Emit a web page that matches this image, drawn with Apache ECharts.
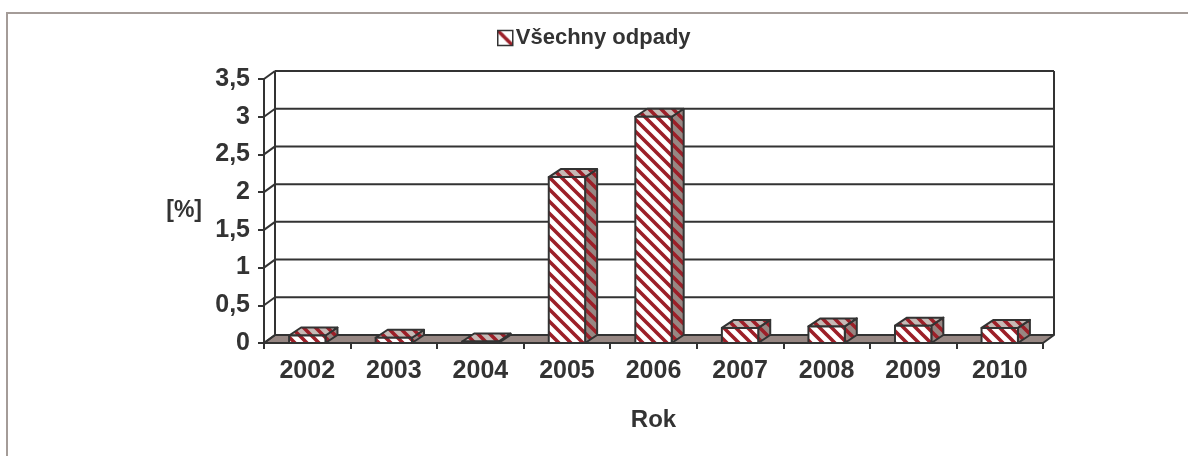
<!DOCTYPE html>
<html>
<head>
<meta charset="utf-8">
<script src="https://cdn.jsdelivr.net/npm/echarts@6/dist/echarts.min.js"></script>
<style>html,body{margin:0;padding:0;background:#fff;}#c{width:1188px;height:456px;}</style>
</head>
<body>
<div id="c"></div>
<script>
var categories = ['2002','2003','2004','2005','2006','2007','2008','2009','2010'];
var values = [0.1, 0.07, 0.02, 2.2, 3.0, 0.2, 0.22, 0.23, 0.2];
var yTicks = [0, 0.5, 1, 1.5, 2, 2.5, 3, 3.5];
var seriesName = 'Všechny odpady';
var xName = 'Rok';
var yName = '[%]';

var DX = 11, DY = -8;       // wall depth
var BDX = 12, BDY = -8;     // bar depth
var DARK = '#333333';
var FONT = '"Liberation Sans", Arial, sans-serif';

function makePattern(bg, stripe, size, lw) {
  var c = document.createElement('canvas');
  c.width = size; c.height = size;
  var g = c.getContext('2d');
  g.fillStyle = bg; g.fillRect(0, 0, size, size);
  g.strokeStyle = stripe; g.lineWidth = lw; g.lineCap = 'square';
  g.beginPath();
  g.moveTo(-3, -3); g.lineTo(size + 3, size + 3);
  g.moveTo(-3, size - 3); g.lineTo(3, size + 3);
  g.moveTo(size - 3, -3); g.lineTo(size + 3, 3);
  g.stroke();
  return {image: c, repeat: 'repeat'};
}
var RED = '#9c1f28';
var frontPat = makePattern('#ffffff', RED, 12, 3.6);
var sidePat = makePattern('#978783', RED, 12, 3.6);
var topPat = makePattern('#c6bab6', RED, 12, 3.6);
var legendPat = makePattern('#ffffff', RED, 20, 3.5);

var chart = echarts.init(document.getElementById('c'), null, {renderer: 'canvas'});

function wallRender(params, api) {
  var cs = params.coordSys;
  var x0 = cs.x, x1 = cs.x + cs.width;
  var y0 = api.coord([0, 0])[1];
  var yTop = api.coord([0, yTicks[yTicks.length - 1]])[1];
  var children = [];
  children.push({type: 'polygon', shape: {points: [[x0, y0], [x1, y0], [x1 + DX, y0 + DY], [x0 + DX, y0 + DY]]},
    style: {fill: '#978783', stroke: DARK, lineWidth: 2, lineJoin: 'round'}});
  yTicks.forEach(function (v) {
    var y = api.coord([0, v])[1];
    if (v !== 0) {
      children.push({type: 'line', shape: {x1: x0 + DX, y1: y + DY, x2: x1 + DX, y2: y + DY},
        style: {stroke: DARK, lineWidth: 2}});
    }
    children.push({type: 'line', shape: {x1: x0, y1: y, x2: x0 + DX, y2: y + DY},
      style: {stroke: DARK, lineWidth: 2}});
  });
  children.push({type: 'line', shape: {x1: x0 + DX, y1: yTop + DY, x2: x0 + DX, y2: y0 + DY}, style: {stroke: DARK, lineWidth: 2}});
  children.push({type: 'line', shape: {x1: x1 + DX, y1: yTop + DY, x2: x1 + DX, y2: y0 + DY}, style: {stroke: DARK, lineWidth: 2}});
  return {type: 'group', children: children};
}

function barRender(params, api) {
  var idx = api.value(0), v = api.value(1);
  var pTop = api.coord([idx, v]);
  var pBase = api.coord([idx, 0]);
  var bw = api.size([1, 0])[0] * 0.42;
  var xl = pTop[0] - bw / 2, xr = pTop[0] + bw / 2;
  var yt = pTop[1], yb = pBase[1];
  var st = {stroke: DARK, lineWidth: 2, lineJoin: 'round'};
  return {type: 'group', children: [
    {type: 'polygon', shape: {points: [[xr, yt], [xr + BDX, yt + BDY], [xr + BDX, yb + BDY], [xr, yb]]},
      style: Object.assign({fill: sidePat}, st)},
    {type: 'polygon', shape: {points: [[xl, yt], [xr, yt], [xr + BDX, yt + BDY], [xl + BDX, yt + BDY]]},
      style: Object.assign({fill: topPat}, st)},
    {type: 'rect', shape: {x: xl, y: yt, width: bw, height: yb - yt},
      style: Object.assign({fill: frontPat}, st)}
  ]};
}

var option = {
  animation: false,
  backgroundColor: '#ffffff',
  textStyle: {fontFamily: FONT},
  graphic: [{
    type: 'rect', z: -10, silent: true,
    shape: {x: 7, y: 13, width: 1200, height: 460},
    style: {fill: 'none', stroke: '#a49c98', lineWidth: 2}
  }],
  legend: {
    left: 497, top: 27, padding: 0,
    itemWidth: 15, itemHeight: 15, itemGap: 10,
    icon: 'rect',
    data: [{name: seriesName, itemStyle: {color: legendPat, borderColor: DARK, borderWidth: 1.5}}],
    textStyle: {fontFamily: FONT, fontWeight: 'bold', fontSize: 22, color: DARK, padding: [0, 0, 0, -2]}
  },
  grid: {left: 264, right: 145, top: 79, bottom: 113},
  xAxis: {
    type: 'category', data: categories, boundaryGap: true,
    axisLine: {show: false},
    axisTick: {show: true, length: 6, lineStyle: {color: DARK, width: 2}},
    axisLabel: {margin: 16, fontFamily: FONT, fontWeight: 'bold', fontSize: 25, color: DARK},
    name: xName, nameLocation: 'middle', nameGap: 65,
    nameTextStyle: {fontFamily: FONT, fontWeight: 'bold', fontSize: 24, color: DARK},
    splitLine: {show: false}
  },
  yAxis: {
    type: 'value', min: 0, max: 3.5, interval: 0.5,
    axisLine: {show: true, lineStyle: {color: DARK, width: 2}},
    axisTick: {show: true, length: 6, lineStyle: {color: DARK, width: 2}},
    axisLabel: {margin: 14, fontFamily: FONT, fontWeight: 'bold', fontSize: 25, color: DARK,
      formatter: function (v) { return String(v).replace('.', ','); }},
    splitLine: {show: false},
    name: yName, nameLocation: 'middle', nameGap: 62, nameRotate: 0,
    nameTextStyle: {fontFamily: FONT, fontWeight: 'bold', fontSize: 23, color: DARK}
  },
  series: [
    {type: 'custom', name: '_wall', clip: false, silent: true, z: 1,
      renderItem: wallRender, data: [[0, 0]], encode: {x: 0, y: 1}},
    {type: 'custom', name: seriesName, clip: false, z: 2,
      itemStyle: {color: frontPat},
      renderItem: barRender,
      data: values.map(function (v, i) { return [i, v]; }),
      encode: {x: 0, y: 1}}
  ]
};
chart.setOption(option);
</script>
</body>
</html>
